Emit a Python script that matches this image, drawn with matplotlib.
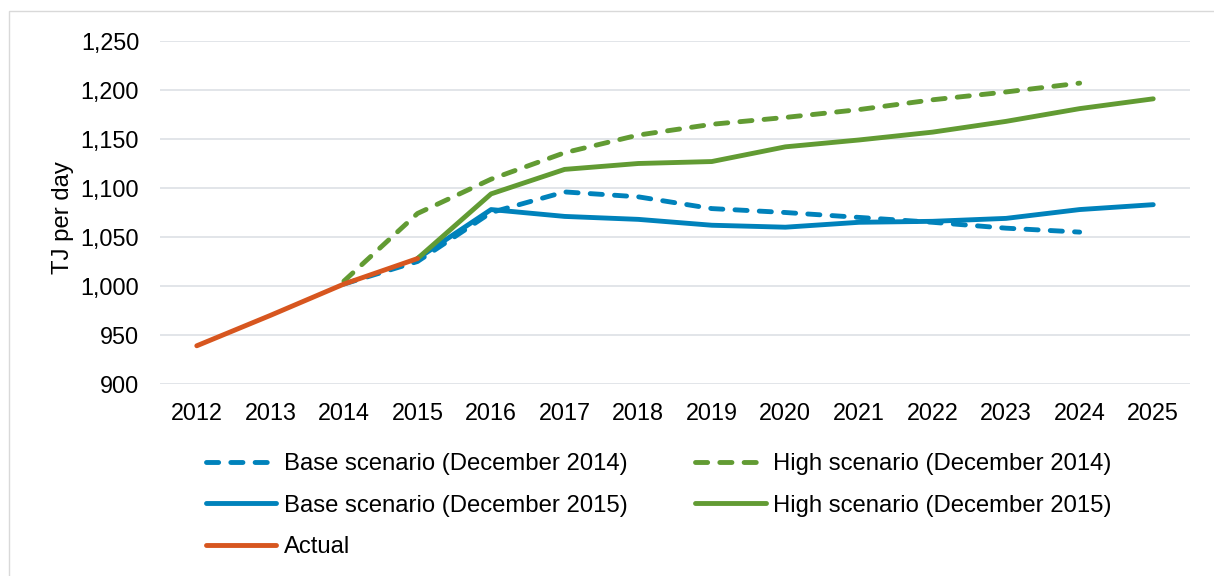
import numpy as np
import matplotlib
matplotlib.use("Agg")
import matplotlib.pyplot as plt
from matplotlib.patches import Rectangle
from matplotlib.ticker import FuncFormatter

years = ["2012", "2013", "2014", "2015", "2016", "2017", "2018",
         "2019", "2020", "2021", "2022", "2023", "2024", "2025"]
nan = np.nan
base_2014 = [nan, nan, 1002, 1025, 1075, 1096, 1091, 1079, 1075, 1070, 1065, 1059, 1055, nan]
high_2014 = [nan, nan, 1005, 1074, 1109, 1136, 1154, 1165, 1172, 1180, 1190, 1198, 1207, nan]
base_2015 = [nan, nan, nan, 1028, 1078, 1071, 1068, 1062, 1060, 1065, 1066, 1069, 1078, 1083]
high_2015 = [nan, nan, nan, 1028, 1094, 1119, 1125, 1127, 1142, 1149, 1157, 1168, 1181, 1191]
actual = [939, 970, 1002, 1028, nan, nan, nan, nan, nan, nan, nan, nan, nan, nan]

labels = ["Base scenario (December 2014)", "High scenario (December 2014)",
          "Base scenario (December 2015)", "High scenario (December 2015)", "Actual"]

BLUE = "#0082bb"
GREEN = "#629b33"
ORANGE = "#d7561f"

plt.rcParams['font.family'] = ['Liberation Sans', 'DejaVu Sans']
FS = 16.8
LFS = 17.2

W, H = 1214, 576
fig = plt.figure(figsize=(W / 100, H / 100), dpi=100)
fig.patches.append(Rectangle((8.5 / W, -0.1), 1.2, 1 - 11 / H + 0.1, transform=fig.transFigure,
                             fill=False, edgecolor="#d9d9d9", linewidth=1.0))

ax = fig.add_axes([160 / W, 1 - 384 / H, (1190 - 160) / W, (384 - 41) / H])
x = np.arange(len(years))
lw = 3.5
common = dict(linewidth=lw, solid_capstyle='round', dash_capstyle='round',
              solid_joinstyle='round', dash_joinstyle='round')
l1, = ax.plot(x, base_2014, color=BLUE, linestyle=(0, (2.5, 2.5)), **common)
l2, = ax.plot(x, high_2014, color=GREEN, linestyle=(0, (2.5, 2.5)), **common)
l3, = ax.plot(x, base_2015, color=BLUE, **common)
l4, = ax.plot(x, high_2015, color=GREEN, **common)
l5, = ax.plot(x, actual, color=ORANGE, **common)

ax.set_xlim(-0.5, len(years) - 0.5)
ax.set_ylim(900, 1250)
ax.set_yticks(np.arange(900, 1251, 50))
ax.yaxis.set_major_formatter(FuncFormatter(lambda v, p: f"{int(v):,}"))
ax.set_xticks(x)
ax.set_xticklabels(years)
ax.tick_params(axis='both', length=0, labelsize=FS, colors='#000000')
ax.tick_params(axis='y', pad=15)
ax.tick_params(axis='x', pad=13)
ax.grid(axis='y', color='#dfe3e7', linewidth=1.3)
ax.set_axisbelow(True)
for s in ax.spines.values():
    s.set_visible(False)

ax.set_ylabel("TJ per day", fontsize=LFS)
ax.yaxis.set_label_coords((74 - 160) / 1030, (384 - 218) / 343)

leg = fig.legend([l1, l3, l5, l2, l4], [labels[0], labels[2], labels[4], labels[1], labels[3]],
                 ncol=2, loc='upper left', bbox_to_anchor=(206 / W, 1 - 453 / H),
                 frameon=False, fontsize=LFS, handlelength=2.95, handletextpad=0.3,
                 columnspacing=2.85, labelspacing=0.82, borderpad=0, borderaxespad=0)

fig.savefig("out.png", dpi=100)
